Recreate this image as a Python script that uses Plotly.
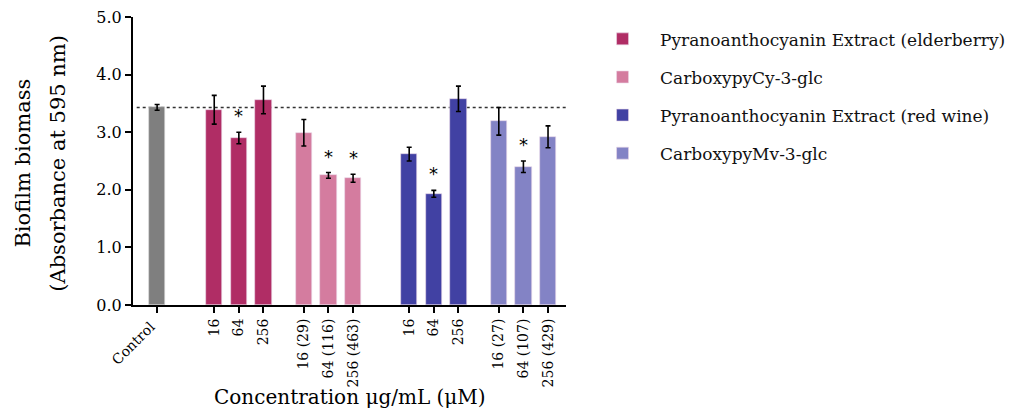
import plotly.graph_objects as go

# ---- data ----
control_label = "Control"
control_mean = [3.43]
control_err = [0.05]

series_names = [
    "Pyranoanthocyanin Extract (elderberry)",
    "CarboxypyCy-3-glc",
    "Pyranoanthocyanin Extract (red wine)",
    "CarboxypyMv-3-glc",
]
series_labels = [
    ["16", "64", "256"],
    ["16 (29)", "64 (116)", "256 (463)"],
    ["16", "64", "256"],
    ["16 (27)", "64 (107)", "256 (429)"],
]
elder_mean = [3.39, 2.90, 3.56]
elder_err = [0.25, 0.10, 0.24]
cy_mean = [2.99, 2.25, 2.20]
cy_err = [0.23, 0.05, 0.07]
wine_mean = [2.62, 1.93, 3.58]
wine_err = [0.12, 0.06, 0.22]
mv_mean = [3.19, 2.40, 2.92]
mv_err = [0.24, 0.10, 0.19]
significant = [
    [False, True, False],
    [False, True, True],
    [False, True, False],
    [False, True, False],
]
reference_line = 3.43
y_title_lines = ["Biofilm biomass", "(Absorbance at 595 nm)"]
x_title = "Concentration μg/mL (μM)"

# ---- style ----
colors = ["#B02D65", "#D47C9F", "#4141A3", "#8383C5"]
control_color = "#7F7F7F"
group_gaps = [2.32, 1.64, 2.28, 1.64]
FONT = "DejaVu Serif"

means = [elder_mean, cy_mean, wine_mean, mv_mean]
errs = [elder_err, cy_err, wine_err, mv_err]

fig = go.Figure()
fig.add_trace(go.Bar(
    x=[0], y=control_mean, width=0.66,
    marker=dict(color=control_color, line=dict(color="#D8D8D8", width=0.6)),
    error_y=dict(type="data", array=control_err, color="black", thickness=1.6, width=2.5),
    showlegend=False,
))

tickvals = [0]
ticktext = [""]
pos = 0
annotations = []
for i, name in enumerate(series_names):
    start = pos + group_gaps[i]
    xs = [start + k for k in range(len(means[i]))]
    pos = xs[-1]
    fig.add_trace(go.Bar(
        x=xs, y=means[i], width=0.66, name=name,
        legendgroup=name,
        marker=dict(color=colors[i], line=dict(color="#EBD8E8", width=0.6)),
        error_y=dict(type="data", array=errs[i], color="black", thickness=1.6, width=2.5),
    ))
    tickvals += xs
    ticktext += series_labels[i]
    for xv, m, e, s in zip(xs, means[i], errs[i], significant[i]):
        if s:
            annotations.append(dict(
                x=xv, y=m + e, text="*", showarrow=False, yanchor="bottom",
                yshift=4, font=dict(family="DejaVu Sans", size=18, color="black"),
            ))

x_lo, x_hi = -0.98, pos + 0.73

fig.add_shape(type="line", x0=x_lo + 0.15, x1=x_hi, y0=reference_line, y1=reference_line,
              line=dict(color="#333333", width=1.5, dash="dot"), layer="below")

annotations.append(dict(
    x=0.15, y=0, xref="x", yref="y", text=control_label, showarrow=False,
    textangle=-45, xanchor="right", yanchor="top", yshift=-10,
    font=dict(family=FONT, size=14, color="black"),
))
# axis titles
annotations.append(dict(
    x=-0.254, y=0.491, xref="paper", yref="paper", text=y_title_lines[0], showarrow=False,
    textangle=-90, xanchor="center", yanchor="middle",
    font=dict(family=FONT, size=21, color="black"),
))
annotations.append(dict(
    x=-0.173, y=0.491, xref="paper", yref="paper", text=y_title_lines[1], showarrow=False,
    textangle=-90, xanchor="center", yanchor="middle",
    font=dict(family=FONT, size=21, color="black"),
))
annotations.append(dict(
    x=0.501, y=-0.319, xref="paper", yref="paper", text=x_title, showarrow=False,
    xanchor="center", yanchor="middle",
    font=dict(family=FONT, size=20, color="black"),
))

fig.update_layout(
    width=1011, height=414,
    margin=dict(l=133, r=445, t=17, b=109, autoexpand=False),
    plot_bgcolor="white", paper_bgcolor="white",
    bargap=0,
    font=dict(family=FONT, size=15, color="black"),
    showlegend=True,
    legend=dict(x=1.044, y=0.985, xanchor="left", yanchor="top",
                font=dict(family=FONT, size=17, color="#111111"), tracegroupgap=13,
                itemwidth=65, bgcolor="rgba(0,0,0,0)"),
    annotations=annotations,
)
fig.update_xaxes(
    range=[x_lo, x_hi], tickmode="array", tickvals=tickvals, ticktext=ticktext,
    tickangle=-90, ticks="outside", ticklen=6, tickwidth=2, tickcolor="black",
    showline=True, linecolor="black", linewidth=2, showgrid=False, zeroline=False,
    tickfont=dict(family=FONT, size=14),
)
fig.update_yaxes(
    range=[0, 5], tickmode="array", tickvals=[0, 1, 2, 3, 4, 5], tickformat=".1f",
    ticks="outside", ticklen=6, tickwidth=2, tickcolor="black",
    showline=True, linecolor="black", linewidth=2, showgrid=False, zeroline=False,
    tickfont=dict(family=FONT, size=16),
)

fig.write_html("out.html")
